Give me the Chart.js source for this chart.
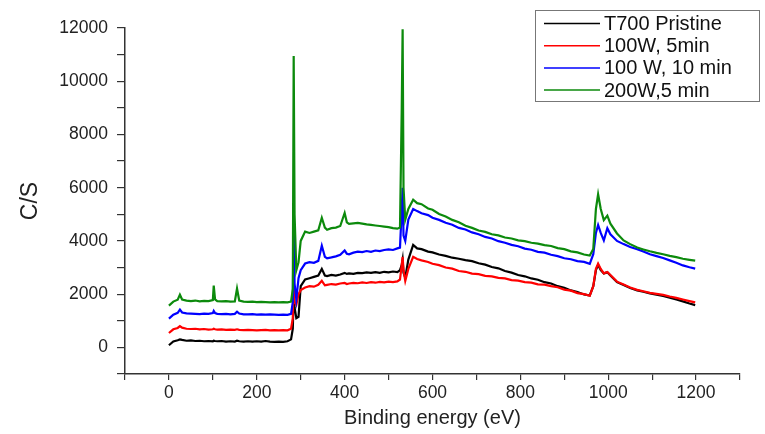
<!DOCTYPE html>
<html lang="en">
<head>
<meta charset="UTF-8">
<title>XPS survey spectra</title>
<script src="https://cdn.jsdelivr.net/npm/chart.js"></script>
<style>
  html, body { margin: 0; padding: 0; background: #fff; }
  #wrap { width: 765px; height: 434px; }
</style>
</head>
<body>
<div id="wrap"><canvas id="xps" width="765" height="434"></canvas></div>
<script>
  // binding energy (eV), shared by all four spectra
  const energy = [
    0, 10, 20, 25, 30, 40, 50, 60, 70, 80, 90, 100, 102, 105, 110, 120, 130, 140, 150, 155,
    160, 170, 180, 190, 200, 210, 220, 230, 240, 250, 260, 270, 278, 282, 284, 286, 290, 295, 300, 310,
    320, 330, 340, 348, 355, 360, 370, 380, 390, 400, 405, 410, 420, 430, 440, 450, 460, 470, 480, 490,
    500, 510, 520, 526, 530, 532, 534, 538, 545, 556, 565, 575, 590, 600, 615, 630, 645, 660, 675, 690,
    705, 720, 735, 750, 765, 780, 795, 810, 825, 840, 855, 870, 885, 900, 915, 930, 945, 958, 966, 972,
    977, 983, 990, 998, 1005, 1020, 1035, 1050, 1066, 1080, 1095, 1110, 1125, 1140, 1155, 1170, 1185, 1198
  ];

  // counts per second
  const pristine = [
    80, 220, 270, 300, 280, 250, 260, 240, 250, 230, 240, 230, 250, 240, 230, 240, 220, 230, 220, 250,
    230, 220, 230, 220, 230, 220, 240, 220, 210, 220, 210, 230, 300, 700, 2000, 1500, 1100, 1150, 2300, 2550,
    2600, 2650, 2700, 2950, 2700, 2680, 2720, 2700, 2740, 2800, 2760, 2780, 2760, 2800, 2790, 2820, 2800, 2830, 2800, 2840,
    2820, 2850, 2830, 2900, 3100, 3300, 2800, 2620, 3300, 3850, 3720, 3690, 3600, 3570, 3490, 3440, 3370, 3330, 3280, 3240,
    3160, 3110, 3020, 2970, 2870, 2810, 2720, 2670, 2590, 2540, 2450, 2400, 2300, 2240, 2140, 2080, 1990, 1950, 2300, 2900,
    3100, 2900, 2780, 2820, 2700, 2450, 2340, 2230, 2140, 2090, 2030, 1980, 1930, 1870, 1800, 1730, 1650, 1590
  ];
  const w100min5 = [
    540, 680, 730, 800, 740, 700, 690, 700, 680, 690, 670, 680, 700, 680, 670, 680, 660, 670, 660, 680,
    660, 650, 660, 650, 640, 650, 660, 640, 650, 640, 650, 640, 700, 1100, 2600, 1700, 1600, 2000, 2150, 2250,
    2300, 2280, 2350, 2500, 2330, 2350, 2380, 2360, 2400, 2420, 2380, 2400, 2420, 2410, 2440, 2420, 2450, 2430, 2460, 2440,
    2470, 2450, 2480, 2550, 3100, 3400, 2900, 2500, 2950, 3400, 3320, 3270, 3210, 3140, 3090, 3000, 2960, 2870, 2840, 2770,
    2750, 2690, 2670, 2610, 2590, 2530, 2510, 2450, 2430, 2370, 2360, 2300, 2260, 2170, 2130, 2040, 2000, 1940, 2300, 2950,
    3150, 2950, 2780, 2830, 2720, 2470, 2360, 2250, 2160, 2110, 2050, 2010, 1970, 1910, 1860, 1800, 1740, 1690
  ];
  const w100min10 = [
    1080, 1230, 1300, 1420, 1310, 1280, 1270, 1260, 1250, 1270, 1260, 1290, 1370, 1290, 1260, 1250, 1260, 1240, 1260, 1340,
    1270, 1240, 1240, 1250, 1230, 1240, 1230, 1240, 1230, 1220, 1230, 1220, 1260, 1700, 5250, 2400, 1800, 2600, 2900, 3150,
    3200, 3180, 3250, 3820, 3400, 3350, 3380, 3420, 3480, 3640, 3520, 3500, 3560, 3600, 3580, 3620, 3590, 3640, 3620, 3660,
    3680, 3660, 3720, 3750, 5200, 6000, 4200, 4000, 4800, 5200, 5120, 5040, 4970, 4870, 4790, 4680, 4610, 4490, 4430, 4320,
    4250, 4150, 4090, 3990, 3930, 3850, 3800, 3710, 3670, 3590, 3560, 3480, 3430, 3350, 3310, 3240, 3210, 3140, 3500, 4300,
    4600, 4300, 4020, 4480, 4250, 4000, 3880, 3770, 3690, 3600, 3500, 3430, 3360, 3270, 3180, 3080, 3010, 2960
  ];
  const w200min5 = [
    1570, 1720, 1790, 1980, 1800, 1760, 1740, 1760, 1730, 1750, 1740, 1780, 2320, 1800, 1740, 1730, 1740, 1720, 1730, 2210,
    1760, 1720, 1710, 1720, 1700, 1710, 1700, 1690, 1700, 1690, 1700, 1690, 1720, 2200, 10950, 5000, 2900, 3200, 4000, 4350,
    4300, 4350, 4400, 4870, 4500, 4420, 4480, 4500, 4560, 5050, 4700, 4640, 4660, 4680, 4650, 4620, 4600, 4580, 4560, 4540,
    4520, 4480, 4460, 4500, 9000, 11950, 6000, 4800, 5200, 5550, 5420, 5380, 5220, 5170, 5010, 4920, 4790, 4700, 4570, 4490,
    4390, 4340, 4250, 4210, 4130, 4090, 4020, 3990, 3930, 3900, 3840, 3810, 3730, 3690, 3610, 3570, 3490, 3450, 3700, 5200,
    5750, 5200, 4780, 4950, 4650, 4280, 4020, 3880, 3750, 3680, 3610, 3550, 3500, 3440, 3390, 3330, 3290, 3260
  ];

  const seriesLabels = ['T700 Pristine', '100W, 5min', '100 W, 10 min', '200W,5 min'];
  const seriesColors = ['#000000', '#ff0000', '#0000ff', '#0c8a0c'];
  const seriesValues = [pristine, w100min5, w100min10, w200min5];

  const xLabels = [0, 200, 400, 600, 800, 1000, 1200];
  const yLabels = [0, 2000, 4000, 6000, 8000, 10000, 12000];

  Chart.defaults.font.family = 'Arial, "Liberation Sans", sans-serif';

  // legend in a grey box, top right (Origin style)
  const boxLegend = {
    id: 'boxLegend',
    afterDraw(chart) {
      const ctx = chart.ctx;
      ctx.save();
      ctx.fillStyle = '#fff';
      ctx.fillRect(535, 10, 225, 92);
      ctx.strokeStyle = '#777';
      ctx.lineWidth = 1;
      ctx.strokeRect(535.5, 10.5, 224, 91);
      ctx.font = '20px Arial, "Liberation Sans", sans-serif';
      ctx.textBaseline = 'middle';
      chart.data.datasets.forEach((ds, i) => {
        const y = 23.5 + i * 22.2;
        ctx.strokeStyle = ds.borderColor;
        ctx.lineWidth = 1.5;
        ctx.beginPath();
        ctx.moveTo(544, y);
        ctx.lineTo(600, y);
        ctx.stroke();
        ctx.fillStyle = '#111';
        ctx.fillText(ds.label, 604, y + 1);
      });
      ctx.restore();
    }
  };

  const datasets = seriesLabels.map((label, i) => ({
    label: label,
    data: energy.map((e, j) => ({ x: e, y: seriesValues[i][j] })),
    borderColor: seriesColors[i],
    borderWidth: 2.2,
    pointRadius: 0,
    tension: 0,
    fill: false,
    order: 3 - i   // green drawn last, on top
  }));

  new Chart(document.getElementById('xps'), {
    type: 'line',
    data: { datasets: datasets },
    options: {
      responsive: false,
      animation: false,
      layout: { padding: { top: 28, right: 25, left: 0, bottom: 0 } },
      plugins: {
        legend: { display: false },
        tooltip: { enabled: false }
      },
      scales: {
        x: {
          type: 'linear',
          min: -100,
          max: 1300,
          afterFit: s => { s.height = 60; },
          ticks: {
            stepSize: 100,
            autoSkip: false,
            maxRotation: 0,
            padding: 3,
            color: '#222',
            font: { size: 17.5 },
            callback: v => xLabels.includes(v) ? String(v) : ''
          },
          grid: { drawOnChartArea: false, drawTicks: true, tickLength: 6, color: '#333', lineWidth: 1.2 },
          border: { display: true, color: '#333', width: 1.5 },
          title: {
            display: true,
            text: 'Binding energy (eV)',
            color: '#222',
            font: { size: 20 },
            padding: { top: 0, bottom: 4 }
          }
        },
        y: {
          min: -1000,
          max: 12000,
          afterFit: s => { s.width = 125; },
          ticks: {
            stepSize: 1000,
            autoSkip: false,
            padding: 9,
            color: '#222',
            font: { size: 17.5 },
            callback: v => yLabels.includes(v) ? String(v) : ''
          },
          grid: { drawOnChartArea: false, drawTicks: true, tickLength: 8, color: '#333', lineWidth: 1.2 },
          border: { display: true, color: '#333', width: 1.5 },
          title: {
            display: true,
            text: 'C/S',
            color: '#222',
            font: { size: 23 },
            padding: { top: 17, bottom: 0 }
          }
        }
      }
    },
    plugins: [boxLegend]
  });
</script>
</body>
</html>
